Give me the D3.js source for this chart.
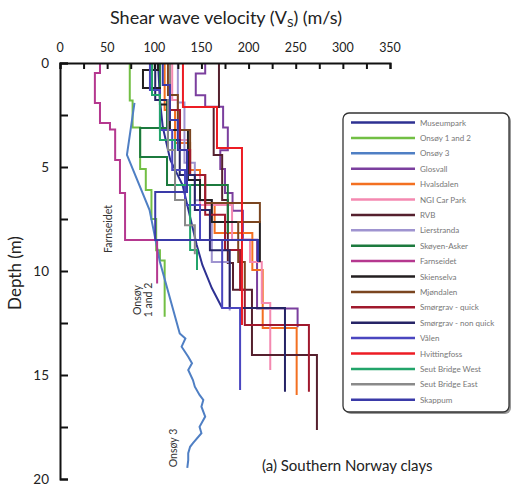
<!DOCTYPE html>
<html>
<head>
<meta charset="utf-8">
<script src="https://cdn.jsdelivr.net/npm/d3@7"></script>
<style>
  body { margin: 0; background: #fff; }
  svg { display: block; }
  text { font-family: Lato, "Open Sans", sans-serif; }
</style>
</head>
<body>
<svg id="chart" width="517" height="488"></svg>
<script>
// Shear wave velocity profiles, Southern Norway clay sites.
// Stepped profiles: [top depth (m), bottom depth (m), Vs (m/s)]
// Smooth profiles: [depth (m), Vs (m/s)]
const siteNames = ["Museumpark", "Onsøy 1 and 2", "Onsøy 3", "Glosvall", "Hvalsdalen",
  "NGI Car Park", "RVB", "Lierstranda", "Skøyen-Asker", "Farnseidet", "Skienselva",
  "Mjøndalen", "Smørgrav - quick", "Smørgrav - non quick", "Vålen", "Hvittingfoss",
  "Seut Bridge West", "Seut Bridge East", "Skappum"];

const museumpark = [[0, 104], [1.78, 106], [3.08, 109], [4.66, 117], [5.87, 130], [7.4, 138],
  [8.75, 145], [9.71, 151], [10.82, 161], [11.78, 172]];
const onsoy12 = [[0, 1.8, 74], [1.8, 3.1, 77], [3.1, 5.1, 85], [5.1, 6.1, 91], [6.1, 7.5, 97],
  [7.5, 9.0, 102], [9.0, 9.5, 106], [9.5, 12.2, 111]];
const onsoy3 = [[1.92, 79], [4.42, 71], [7.07, 95], [9.57, 106], [13.0, 127], [13.24, 133],
  [13.64, 129], [14.12, 136], [14.44, 140], [14.76, 136], [15.24, 141], [15.56, 143],
  [15.96, 148], [16.2, 152], [16.52, 150], [17.0, 154], [17.49, 148], [17.8, 150],
  [18.28, 141], [18.45, 138], [18.76, 136], [19.09, 136], [19.47, 135]];
const glosvall = [[0, 0.5, 154], [0.5, 1.55, 144], [1.55, 2.1, 154], [2.1, 3.1, 173],
  [3.1, 4.2, 178], [4.2, 5.1, 170], [5.1, 6.25, 175], [6.25, 7.1, 183], [7.1, 8.5, 194],
  [8.5, 11.8, 209], [11.8, 12.7, 252]];
const hvalsdalen = [[0, 2.26, 111], [2.26, 3.85, 122], [3.85, 5.14, 138], [5.14, 6.83, 148.5],
  [6.83, 8.17, 164], [8.17, 9.95, 204], [9.95, 12.74, 215], [12.74, 15.96, 251]];
const ngiCarPark = [[0, 1.78, 119], [1.78, 3.7, 125], [3.7, 5.38, 136], [5.38, 6.83, 148.5],
  [6.83, 8.5, 182.5], [8.5, 9.57, 201.5], [9.57, 11.54, 214], [11.54, 14.76, 223]];
const rvb = [[0, 2.12, 168.6], [2.12, 4.42, 163], [4.42, 6.59, 172], [6.59, 9.62, 178],
  [9.62, 10.9, 183.5], [10.9, 14.04, 203.6], [14.04, 17.64, 272.5]];
const lierstranda = [[0, 1.9, 125], [1.9, 4.8, 132], [4.8, 6.6, 143], [6.6, 9.57, 161],
  [9.57, 11.9, 180]];
const skoyenAsker = [[0, 1.78, 106], [1.78, 3.12, 113.5], [3.12, 4.52, 85], [4.52, 5.87, 113.5],
  [5.87, 8.17, 178]];
const farnseidet = [[0, 0.48, 42.4], [0.48, 1.92, 37], [1.92, 2.88, 42.4], [2.88, 3.2, 53],
  [3.2, 4.66, 58.5], [4.66, 6.25, 63.6], [6.25, 8.51, 69], [8.51, 10.6, 103]];
const skienselva = [[0, 0.34, 104], [0.34, 1.2, 88], [1.2, 2.0, 106], [2.0, 3.22, 116.6],
  [3.22, 5.63, 135.7], [5.63, 6.59, 148.5], [6.59, 7.64, 161], [7.64, 9.57, 212]];
const mjondalen = [[0, 1.54, 114.5], [1.54, 3.22, 125], [3.22, 5.38, 138], [5.38, 6.73, 154],
  [6.73, 7.64, 212], [7.64, 9.57, 189], [9.57, 10.9, 196]];
const smorgravQuick = [[0, 2.26, 116.6], [2.26, 4.18, 127.3], [4.18, 5.38, 138], [5.38, 7.3, 154],
  [7.3, 8.99, 175], [8.99, 10.9, 191], [10.9, 12.6, 196], [12.6, 15.8, 264]];
const smorgravNonQuick = [[0, 1.78, 101], [1.78, 3.7, 114.5], [3.7, 5.38, 127], [5.38, 7.07, 143],
  [7.07, 9.0, 159], [9.0, 11.78, 180], [11.78, 15.8, 238.6]];
const valen = [[0, 1.3, 95.4], [1.3, 3.22, 106], [3.22, 5.14, 119], [5.14, 6.83, 132.6],
  [6.83, 8.51, 148.5], [8.51, 11.78, 172], [11.78, 15.72, 191]];
const hvittingfoss = [[0, 2.12, 130.4], [2.12, 4.09, 166.5], [4.09, 12.6, 193]];
const seutWest = [[0, 1.54, 97.6], [1.54, 3.7, 106], [3.7, 5.87, 122], [5.87, 8.99, 138],
  [8.99, 9.95, 145.3]];
const seutEast = [[0, 1.78, 116.6], [1.78, 4.18, 114.5], [4.18, 6.59, 122], [6.59, 7.8, 132.6],
  [7.8, 9.2, 143]];
const skappum = [[0, 1.06, 109], [1.06, 2.74, 116.6], [2.74, 4.18, 125], [4.18, 6.2, 134.7],
  [6.2, 8.51, 101], [8.51, 9.57, 210]];

const profiles = [museumpark, onsoy12, onsoy3, glosvall, hvalsdalen, ngiCarPark, rvb,
  lierstranda, skoyenAsker, farnseidet, skienselva, mjondalen, smorgravQuick,
  smorgravNonQuick, valen, hvittingfoss, seutWest, seutEast, skappum];
const smoothProfiles = ["Museumpark", "Onsøy 3"];

const xTicks = [0, 50, 100, 150, 200, 250, 300, 350];
const yTicks = [0, 5, 10, 15, 20];

const palette = ["#2e3192", "#72bf44", "#4f7fc4", "#7b3f9e", "#f37021", "#f489b0", "#55202e",
  "#9f94d0", "#1c7a3e", "#b5388f", "#231f20", "#7a4520", "#a0192d", "#262466", "#4a46c0",
  "#ed1c24", "#22a46a", "#8a8a8a", "#3a3aa8"];

const svg = d3.select("#chart");
const x = d3.scaleLinear().domain([0, 350]).range([60, 390]);
const y = d3.scaleLinear().domain([0, 20]).range([63, 479]);

// turn a profile into (depth, Vs) vertices
function vertices(name, prof) {
  if (smoothProfiles.includes(name)) return prof;
  const pts = [];
  prof.forEach(([top, bot, vs]) => { pts.push([top, vs]); pts.push([bot, vs]); });
  return pts;
}
const line = d3.line().x(d => x(d[1])).y(d => y(d[0]));

const plot = svg.append("g");
siteNames.forEach((name, i) => {
  plot.append("path")
    .attr("d", line(vertices(name, profiles[i])))
    .attr("fill", "none")
    .attr("stroke", palette[i])
    .attr("stroke-width", 2)
    .attr("stroke-linejoin", "miter");
});

// axes: top (velocity) and left (depth), ticks pointing inward
const xAxis = d3.axisTop(x).tickValues(d3.range(0, 351, 25)).tickSize(-6).tickFormat("");
const gx = svg.append("g").attr("transform", `translate(0,${y(0)})`).call(xAxis);
const yAxis = d3.axisLeft(y).tickValues(d3.range(0, 20.1, 2.5)).tickSize(-8).tickFormat("");
const gy = svg.append("g").attr("transform", `translate(${x(0)},0)`).call(yAxis);
[gx, gy].forEach(g => {
  g.select(".domain").attr("stroke", "#111").attr("stroke-width", 2);
  g.selectAll(".tick line").attr("stroke", "#111").attr("stroke-width", 2);
});

svg.append("g").selectAll("text").data(xTicks).join("text")
  .attr("x", d => x(d)).attr("y", 52)
  .attr("text-anchor", "middle").attr("font-size", 12.5).attr("fill", "#222")
  .text(d => d);
svg.append("g").selectAll("text").data(yTicks).join("text")
  .attr("x", 49).attr("y", d => y(d) + 5)
  .attr("text-anchor", "end").attr("font-size", 13.5).attr("fill", "#222")
  .text(d => d);

// axis titles
const title = svg.append("text").attr("x", 226).attr("y", 24)
  .attr("text-anchor", "middle").attr("font-size", 18).attr("fill", "#222");
title.append("tspan").text("Shear wave velocity (V");
title.append("tspan").attr("font-size", 12).attr("dy", 3).text("S");
title.append("tspan").attr("dy", -3).text(") (m/s)");

svg.append("text").attr("transform", "translate(21,273) rotate(-90)")
  .attr("text-anchor", "middle").attr("font-size", 17).attr("fill", "#222")
  .text("Depth (m)");

// profile annotations
svg.append("text").attr("transform", "translate(112,229) rotate(-90)")
  .attr("text-anchor", "middle").attr("font-size", 10.5).attr("fill", "#333").text("Farnseidet");
const ons = svg.append("text").attr("transform", "translate(141,300) rotate(-90)")
  .attr("text-anchor", "middle").attr("font-size", 10.5).attr("fill", "#333");
ons.append("tspan").attr("x", 0).text("Onsøy");
ons.append("tspan").attr("x", 0).attr("dy", 11).text("1 and 2");
svg.append("text").attr("transform", "translate(177,448) rotate(-90)")
  .attr("text-anchor", "middle").attr("font-size", 10.5).attr("fill", "#333").text("Onsøy 3");

svg.append("text").attr("x", 262).attr("y", 471).attr("font-size", 15).attr("fill", "#222")
  .text("(a) Southern Norway clays");

// legend
const lg = svg.append("g");
lg.append("rect").attr("x", 345).attr("y", 115).attr("width", 166).attr("height", 299)
  .attr("rx", 6).attr("fill", "#999");
lg.append("rect").attr("x", 343).attr("y", 113).attr("width", 166).attr("height", 299)
  .attr("rx", 6).attr("fill", "#fff").attr("stroke", "#333").attr("stroke-width", 1.3);
siteNames.forEach((name, i) => {
  const yy = 122.5 + i * 15.4;
  lg.append("line").attr("x1", 351).attr("x2", 415).attr("y1", yy).attr("y2", yy)
    .attr("stroke", palette[i]).attr("stroke-width", 2.5);
  lg.append("text").attr("x", 420).attr("y", yy + 3).attr("font-size", 8)
    .attr("fill", "#777").text(name);
});
</script>
</body>
</html>
